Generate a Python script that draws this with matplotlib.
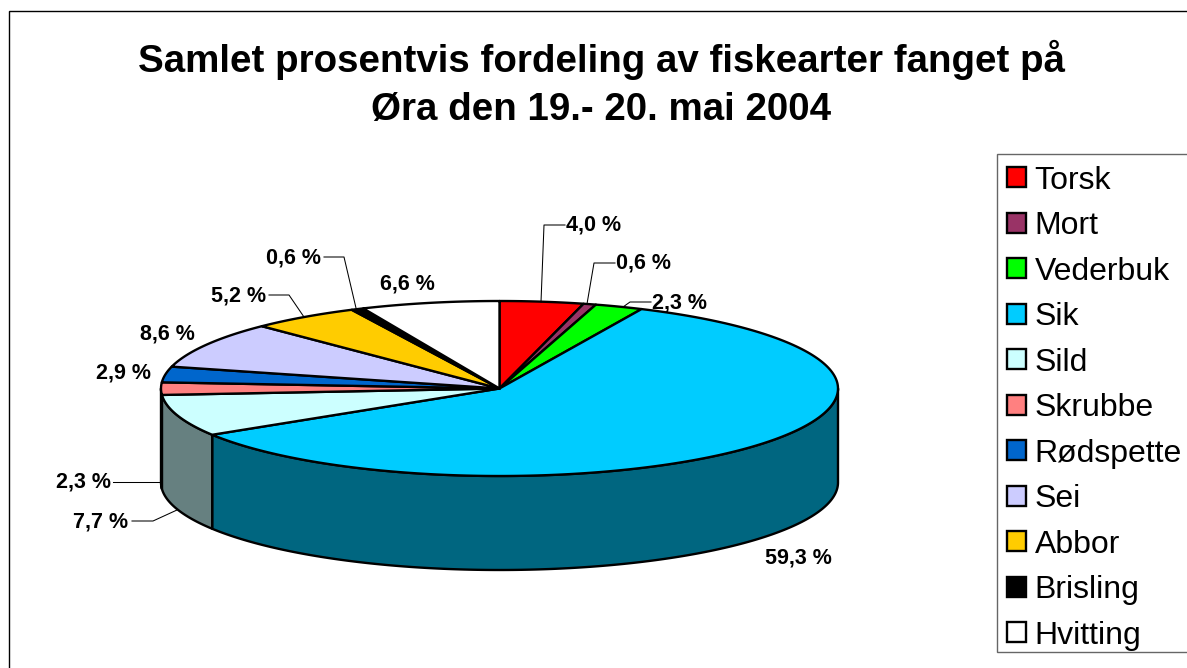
import numpy as np
import matplotlib
matplotlib.use('Agg')
import matplotlib.pyplot as plt
from matplotlib.patches import Polygon, Rectangle, Patch
from matplotlib.colors import to_rgb

plt.rcParams['font.family'] = ['Liberation Sans', 'DejaVu Sans']

# Data
species = ['Torsk', 'Mort', 'Vederbuk', 'Sik', 'Sild', 'Skrubbe', 'Rødspette',
           'Sei', 'Abbor', 'Brisling', 'Hvitting']
percent = [4.0, 0.6, 2.3, 59.3, 7.7, 2.3, 2.9, 8.6, 5.2, 0.6, 6.6]
colors = ['#FF0000', '#993366', '#00FF00', '#00CCFF', '#CCFFFF', '#FF8080',
          '#0066CC', '#CCCCFF', '#FFCC00', '#000000', '#FFFFFF']

# Layout, in pixels of the picture
cx, cy, rx, ry, depth = 499.5, 388.5, 338.5, 87.5, 94
label_pos = [(594, 225), (644, 263), (680, 303), (798, 558), (101, 522), (83, 482),
             (124, 373), (167, 334), (239, 296), (294, 258), (407, 284)]
leaders = [[(565, 225), (544, 225), (541, 302)],
           [(615, 263), (594, 263), (587, 304)],
           [(651, 302), (630, 302), (623, 307)],
           [(132, 521), (153, 521), (177, 510)],
           [(113, 482), (160, 482)],
           [(269, 295), (289, 295), (304, 317)],
           [(324, 257), (344, 257), (356, 308)]]
edge_lw = 1.7


def rim(t):
    return cx + rx * np.sin(t), cy - ry * np.cos(t)


fig = plt.figure(figsize=(11.87, 6.68), dpi=100)
ax = fig.add_axes([0, 0, 1, 1])
ax.set_xlim(0, 1187)
ax.set_ylim(668, 0)
ax.axis('off')

# chart frame runs off the right and bottom of the picture
ax.add_patch(Rectangle((8.5, 11), 1300, 800, fc='white', ec='black', lw=1, zorder=0))

edges = np.cumsum([0] + percent) / np.sum(percent) * 2 * np.pi

# side walls, only the front half is visible
for i in range(len(percent)):
    a = max(edges[i], np.pi / 2)
    b = min(edges[i + 1], 3 * np.pi / 2)
    if b <= a:
        continue
    t = np.linspace(a, b, 200)
    x, y = rim(t)
    pts = np.r_[np.c_[x, y], np.c_[x[::-1], y[::-1] + depth]]
    wall = tuple(np.array(to_rgb(colors[i])) * 0.5)
    ax.add_patch(Polygon(pts, closed=True, fc=wall, ec='black', lw=edge_lw,
                         joinstyle='round', zorder=2))

# top surface
for i in range(len(percent)):
    t = np.linspace(edges[i], edges[i + 1], 200)
    x, y = rim(t)
    pts = np.r_[[[cx, cy]], np.c_[x, y]]
    ax.add_patch(Polygon(pts, closed=True, fc=colors[i], ec='black', lw=edge_lw,
                         joinstyle='round', zorder=3))

# percentage labels and leader lines
for v, (lx, ly) in zip(percent, label_pos):
    ax.text(lx, ly, f'{v:.1f} %'.replace('.', ','), fontsize=15.5, fontweight='bold',
            ha='center', va='center', zorder=5)
for line in leaders:
    xs, ys = zip(*line)
    ax.plot(xs, ys, color='black', lw=0.75, zorder=4)

ax.text(601, 84, 'Samlet prosentvis fordeling av fiskearter fanget på\nØra den 19.- 20. mai 2004',
        fontsize=27.7, fontweight='bold', ha='center', va='center', linespacing=1.42)

# legend box drawn apart, the entries alone would make it too tall
ax.add_patch(Rectangle((997, 153.5), 300, 498.5, fc='white', ec='#666666', lw=1, zorder=5))
handles = [Patch(fc=c, ec='black', lw=1.7) for c in colors]
leg = ax.legend(handles, species, loc='upper left',
                bbox_to_anchor=(997 / 1187, 1 - 156 / 668),
                bbox_transform=fig.transFigure, borderaxespad=0,
                fontsize=23, frameon=False, handlelength=0.6, handleheight=0.6,
                handletextpad=0.28, labelspacing=0.485, borderpad=0.3)
leg.set_zorder(6)

plt.savefig('out.png', dpi=100)
